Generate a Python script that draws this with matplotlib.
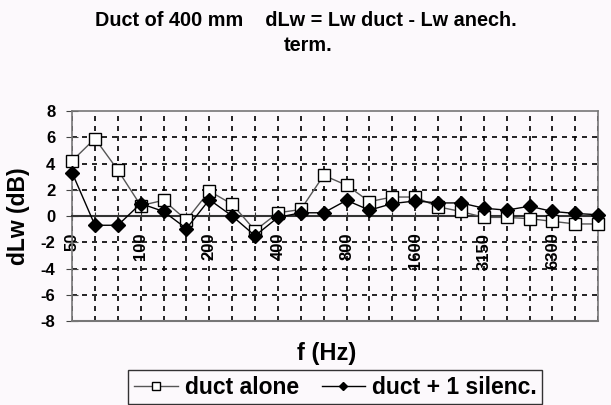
import matplotlib.pyplot as plt

# third-octave bands
bands = ["50", "63", "80", "100", "125", "160", "200", "250", "315", "400",
         "500", "630", "800", "1000", "1250", "1600", "2000", "2500", "3150",
         "4000", "5000", "6300", "8000", "10000"]
shown = ["50", "100", "200", "400", "800", "1600", "3150", "6300"]

duct_alone = [4.2, 5.9, 3.5, 0.8, 1.2, -0.3, 1.9, 0.9, -1.1, 0.25,
              0.5, 3.1, 2.35, 1.1, 1.45, 1.45, 0.7, 0.35, -0.1, -0.1,
              -0.2, -0.4, -0.6, -0.6]
duct_silenc = [3.3, -0.7, -0.7, 0.95, 0.35, -0.95, 1.25, 0.0, -1.5, -0.1,
               0.25, 0.25, 1.2, 0.45, 0.95, 1.15, 1.0, 1.0, 0.6, 0.45,
               0.75, 0.35, 0.2, 0.1]

plt.rcParams['font.family'] = ['Liberation Sans', 'DejaVu Sans']
plt.rcParams['font.weight'] = 'bold'
plt.rcParams['axes.unicode_minus'] = False

bg = '#fcf9fc'
fig = plt.figure(figsize=(6.11, 4.05), dpi=100, facecolor=bg)
ax = fig.add_axes([0.118, 0.207, 0.861, 0.519], facecolor=bg)

x = list(range(len(bands)))

# grid
for i in x:
    ax.axvline(i, color='black', lw=1.2, ls=(0, (3, 3)), zorder=1)
for yv in range(-6, 8, 2):
    if yv != 0:
        ax.axhline(yv, color='black', lw=1.2, ls=(0, (3, 3)), zorder=1)

ax.plot(x, duct_alone, color='#555555', lw=1.0, marker='s', ms=9,
        mfc='white', mec='black', mew=1.0, label='duct alone', zorder=3,
        clip_on=False)
ax.plot(x, duct_silenc, color='black', lw=1.0, marker='D', ms=7.5,
        mfc='black', mec='black', label='duct + 1 silenc.', zorder=4,
        clip_on=False)

ax.set_xlim(0, len(bands) - 1)
ax.set_ylim(-8, 8)
ax.set_yticks(range(-8, 9, 2))
ax.tick_params(axis='y', direction='inout', length=8, labelsize=12,
               color='#444444', pad=8)

# category axis crosses at zero
ax.spines['bottom'].set_position(('data', 0))
ax.spines['bottom'].set_color('#333333')
ax.spines['bottom'].set_linewidth(1.5)
for s in ['left', 'top', 'right']:
    ax.spines[s].set_color('#777777')
    ax.spines[s].set_linewidth(1.2)
ax.axhline(-8, color='#777777', lw=1.5, clip_on=False, zorder=2)

ax.set_xticks(x)
ax.set_xticklabels([b if b in shown else "" for b in bands], rotation=90,
                   fontsize=12)
ax.tick_params(axis='x', direction='inout', length=6, pad=9,
               color='#333333')
for lbl in ax.get_xticklabels():
    lbl.set_zorder(5)

ax.set_ylabel('dLw (dB)', fontsize=16.5, fontweight='bold', labelpad=8)
fig.text(0.535, 0.128, 'f (Hz)', ha='center', va='center', fontsize=17,
         fontweight='bold')

fig.text(0.5, 0.95, 'Duct of 400 mm    dLw = Lw duct - Lw anech.',
         ha='center', va='center', fontsize=14.3, fontweight='bold')
fig.text(0.505, 0.888, 'term.', ha='center', va='center', fontsize=14.3,
         fontweight='bold')

leg = fig.legend(loc='center', bbox_to_anchor=(0.549, 0.044), ncol=2,
                 frameon=True, fancybox=False, edgecolor='black',
                 fontsize=16.5, handlelength=1.9, columnspacing=1.0,
                 borderpad=0.25, handletextpad=0.3, markerscale=0.6)
leg.get_frame().set_facecolor(bg)
leg.get_frame().set_linewidth(1.0)

fig.savefig('out.png', dpi=100, facecolor=bg)
